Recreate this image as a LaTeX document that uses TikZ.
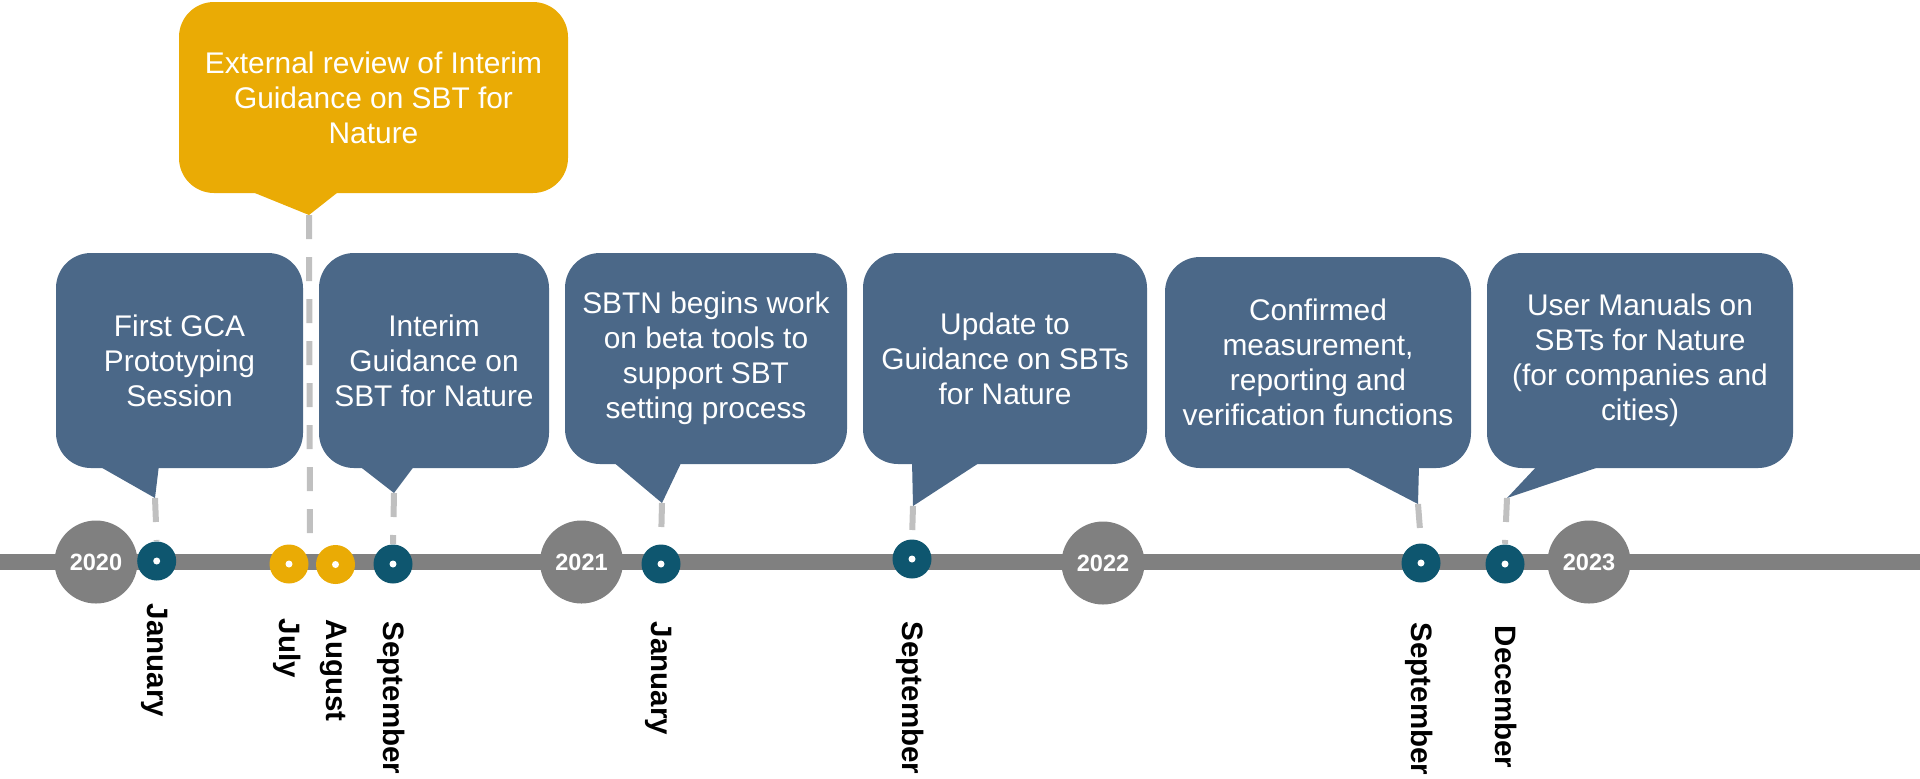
\documentclass[tikz,border=0pt]{standalone}
\usepackage{fontspec}
\setmainfont{Liberation Sans}
\usetikzlibrary{positioning}
\definecolor{boxblue}{HTML}{4B6888}
\definecolor{boxgold}{HTML}{EAAB05}
\definecolor{dotteal}{HTML}{0E566F}
\definecolor{bargray}{HTML}{808080}
\definecolor{linkgray}{HTML}{C0C0C0}
\tikzset{
    bubble/.style={fill=#1, rounded corners=0.35cm, text=white, align=center, inner sep=0pt,
        font=\fontsize{8.5pt}{10pt}\selectfont},
    bubble/.default=boxblue,
    yearball/.style={circle, fill=bargray, minimum size=0.83cm, inner sep=0pt, text=white,
        font=\bfseries\fontsize{6.7pt}{8pt}\selectfont},
    monthdot/.style={circle, fill=#1, minimum size=0.39cm, inner sep=0pt,
        path picture={\fill[white] (path picture bounding box.center) circle (0.035);}},
    monthdot/.default=dotteal,
    monthlabel/.style={rotate=-90, anchor=west, inner sep=0pt, text height=1.4ex, text depth=0.4ex,
        font=\bfseries\fontsize{8.4pt}{10pt}\selectfont},
    link/.style={linkgray, line width=0.06cm, dash pattern=on 0.24cm off 0.18cm}
}

\begin{document}
\begin{tikzpicture}
            \useasboundingbox (0,0) rectangle (19.2,7.78);
            \draw[bargray, line width=0.16cm] (0,2.16)--(19.2,2.16);
            \node[yearball] (y2020) at (0.96,2.16) {2020};
            \node[yearball] (y2021) at (5.815,2.16) {2021};
            \node[yearball] (y2022) at (11.03,2.15) {2022};
            \node[yearball] (y2023) at (15.89,2.16) {2023};
            \node[monthdot] (jan20) at (1.567,2.17) {};
            \node[monthdot=boxgold] (jul20) at (2.89,2.14) {};
            \node[monthdot=boxgold] (aug20) at (3.355,2.135) {};
            \node[monthdot] (sep20) at (3.93,2.14) {};
            \node[monthdot] (jan21) at (6.61,2.14) {};
            \node[monthdot] (sep21) at (9.12,2.19) {};
            \node[monthdot] (sep22) at (14.21,2.15) {};
            \node[monthdot] (dec22) at (15.05,2.14) {};
            \node[monthlabel] (ljan20) at (1.567,1.75) {January};
            \node[monthlabel] (ljul20) at (2.89,1.60) {July};
            \node[monthlabel] (laug20) at (3.355,1.59) {August};
            \node[monthlabel] (lsep20) at (3.93,1.57) {September};
            \node[monthlabel] (ljan21) at (6.61,1.57) {January};
            \node[monthlabel] (lsep21) at (9.12,1.57) {September};
            \node[monthlabel] (lsep22) at (14.21,1.56) {September};
            \node[monthlabel] (ldec22) at (15.05,1.53) {December};
            \node[bubble=boxgold, minimum width=3.89cm, minimum height=1.91cm] (review) at (3.735,6.805)
                {External review of Interim\\Guidance on SBT for\\Nature};
            \coordinate (ty) at (3.09,5.63);
            \coordinate (yend) at (3.10,2.41);
            \fill[boxgold] (2.45,5.89)--(ty)--(3.42,5.89)--cycle;
            \node[bubble, minimum width=2.47cm, minimum height=2.15cm] (b1) at (1.795,4.175)
                {First GCA\\Prototyping\\Session};
            \node[bubble, minimum width=2.30cm, minimum height=2.15cm] (b2) at (4.34,4.175)
                {Interim\\Guidance on\\SBT for Nature};
            \node[bubble, minimum width=2.82cm, minimum height=2.11cm] (b3) at (7.06,4.195)
                {SBTN begins work\\on beta tools to\\support SBT\\setting process};
            \node[bubble, minimum width=2.84cm, minimum height=2.11cm] (b4) at (10.05,4.195)
                {Update to\\Guidance on SBTs\\for Nature};
            \node[bubble, minimum width=3.06cm, minimum height=2.11cm] (b5) at (13.18,4.155)
                {Confirmed\\measurement,\\reporting and\\verification functions};
            \node[bubble, minimum width=3.06cm, minimum height=2.15cm] (b6) at (16.40,4.175)
                {User Manuals on\\SBTs for Nature\\(for companies and\\cities)};
            \coordinate (t1) at (1.55,2.80);
            \coordinate (t2) at (3.94,2.85);
            \coordinate (t3) at (6.62,2.75);
            \coordinate (t4) at (9.13,2.72);
            \coordinate (t5) at (14.18,2.74);
            \coordinate (t6) at (15.07,2.80);
            \fill[boxblue] (0.97,3.13)--(t1)--(1.59,3.13)--cycle;
            \fill[boxblue] (3.58,3.13)--(t2)--(4.15,3.13)--cycle;
            \fill[boxblue] (6.12,3.17)--(t3)--(6.82,3.17)--cycle;
            \fill[boxblue] (9.12,3.17)--(t4)--(9.82,3.17)--cycle;
            \fill[boxblue] (13.43,3.13)--(t5)--(14.19,3.13)--cycle;
            \fill[boxblue] (15.38,3.13)--(t6)--(16.05,3.13)--cycle;
            \draw[link] (ty)--(yend);
            \draw[link] (t1)--(jan20.north);
            \draw[link] (t2)--(sep20.north);
            \draw[link] (t3)--(jan21.north);
            \draw[link] (t4)--(sep21.north);
            \draw[link] (t5)--(sep22.north);
            \draw[link] (t6)--(dec22.north);
        \end{tikzpicture}
\end{document}
